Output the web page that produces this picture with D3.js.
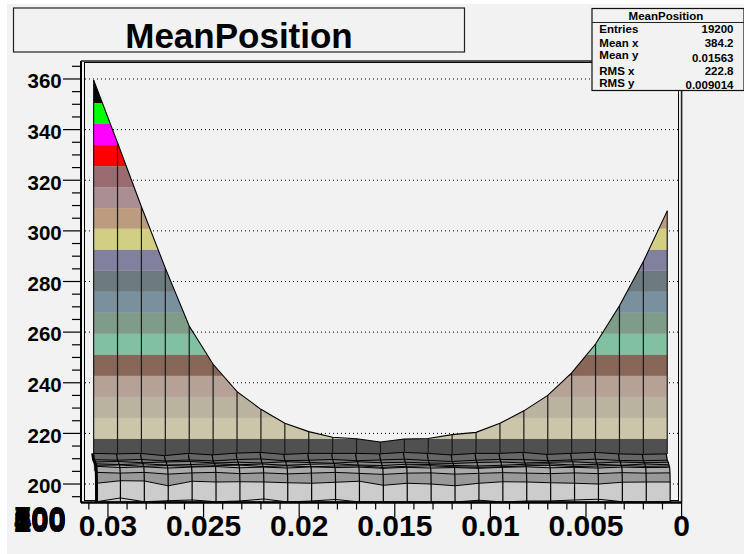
<!DOCTYPE html>
<html>
<head>
<meta charset="utf-8">
<script src="https://cdn.jsdelivr.net/npm/d3@7"></script>
<style>
  body { margin: 0; background: #fff; }
  text { font-family: "Liberation Sans", Arial, sans-serif; font-weight: bold; fill: #000; }
</style>
</head>
<body>
<div id="chart-area"></div>
<script>
// MeanPosition surface plot

// x positions of the surface columns
const xBins = [0.03075, 0.0295, 0.02825, 0.027, 0.02575, 0.0245, 0.02325, 0.022, 0.02075, 0.0195, 0.01825, 0.017, 0.01575,
  0.0145, 0.01325, 0.012, 0.01075, 0.0095, 0.00825, 0.007, 0.00575, 0.0045, 0.00325, 0.002, 0.00075]

// top edge of the surface
const topValues = [359.6, 334.8, 309.5, 285.3, 262.4, 247.3, 236.5, 229.5, 224.0, 220.7, 218.5, 217.9, 216.6,
  217.8, 218.0, 219.5, 220.4, 224.0, 228.9, 235.0, 243.9, 255.3, 270.4, 287.9, 307.9]

// wiggly rows in the low part of the surface
const rowA = [212.1, 211.9, 212.1, 211.2, 212.1, 211.5, 212.2, 212.5, 211.7, 212.1, 212.1, 212.1, 211.9, 212.5, 212.1, 211.5, 212.1, 212.1, 212.5, 211.7, 212.1, 212.5, 211.9, 211.7, 211.9]
const rowB = [209.6, 209.4, 209.7, 209.1, 209.5, 209.1, 209.7, 209.9, 209.2, 209.4, 209.7, 209.2, 209.5, 209.8, 209.3, 208.9, 209.4, 209.7, 209.6, 209.2, 209.5, 209.8, 209.3, 209.2, 209.4]
const rowC = [208.7, 208.9, 208.4, 208.7, 208.9, 208.3, 208.6, 208.3, 208.8, 208.5, 208.2, 208.8, 208.4, 208.6, 208.3, 208.1, 208.5, 208.7, 208.3, 208.6, 208.8, 208.3, 208.7, 208.4, 208.6]
const rowD = [208.0, 207.7, 208.0, 207.5, 207.7, 208.0, 207.6, 207.9, 207.4, 207.8, 208.0, 207.5, 207.3, 207.8, 207.7, 207.3, 207.1, 207.4, 207.8, 208.0, 207.5, 207.8, 207.4, 207.9, 207.6]
const rowE = [207.4, 207.5, 207.0, 207.3, 207.0, 207.2, 207.5, 206.9, 207.2, 206.8, 207.1, 207.2, 206.6, 207.0, 207.2, 206.8, 206.6, 206.8, 207.2, 207.4, 206.9, 207.1, 207.3, 207.0, 207.1]
const rowF = [207.0, 206.5, 206.8, 206.3, 206.7, 206.9, 206.4, 206.7, 206.3, 206.8, 206.5, 206.7, 206.2, 206.6, 206.3, 206.5, 206.2, 206.6, 206.8, 206.4, 206.6, 206.3, 206.7, 206.5, 206.6]
const rowG = [204.6, 204.3, 204.6, 203.9, 204.4, 204.6, 204.1, 204.4, 204.0, 204.3, 204.6, 204.2, 203.8, 204.3, 204.4, 203.9, 204.2, 204.5, 204.3, 204.1, 204.4, 204.1, 204.5, 204.3, 204.4]
const rowH = [200.3, 201.3, 201.2, 199.3, 201.1, 200.8, 200.9, 200.8, 200.5, 200.3, 200.7, 201.1, 199.5, 200.3, 200.0, 199.3, 200.3, 200.9, 200.8, 200.5, 200.3, 200.0, 200.7, 200.8, 200.8]
const rowI = [193.0, 194.5, 193.0, 193.4, 193.7, 193.0, 193.3, 194.1, 192.9, 193.3, 193.9, 192.9, 192.9, 192.9, 192.9, 192.9, 193.6, 192.9, 193.3, 193.3, 193.7, 194.0, 193.0, 192.9, 192.9]

// contour levels, top to bottom
const levels = [360, 350.5, 342.2, 333.9, 325.6, 317.3, 309.0, 300.8, 292.5, 284.2, 275.9, 267.6, 259.3, 251.0, 242.7, 234.4, 226.1, 217.8, 205]

// axis ticks and labels
const yMajor = [200, 220, 240, 260, 280, 300, 320, 340, 360]
const yMinor = [195, 205, 210, 215, 225, 230, 235, 245, 250, 255, 265, 270, 275, 285, 290, 295, 305, 310, 315, 325, 330, 335, 345, 350, 355, 365]
const xMajor = [0, 0.005, 0.01, 0.015, 0.02, 0.025, 0.03]
const xMinor = [0.001, 0.002, 0.003, 0.004, 0.006, 0.007, 0.008, 0.009, 0.011, 0.012, 0.013, 0.014, 0.016, 0.017, 0.018, 0.019, 0.021, 0.022, 0.023, 0.024, 0.026, 0.027, 0.028, 0.029, 0.031]
const zLabels = ["700", "600", "500", "400", "300", "200", "100"]

// stats box
const statNames = ["Entries", "Mean x", "Mean y", "RMS x", "RMS y"]
const statValues = ["19200", "384.2", "0.01563", "222.8", "0.009014"]

// styles
const bandColors = ["#000000", "#00ff00", "#ff00ff", "#ff0000", "#9a6b70", "#ab8e93", "#bd9b7e", "#d2cf85", "#81809f",
  "#6d7b80", "#7a909e", "#7f9c88", "#82c0a2", "#886758", "#b6a197", "#b9b39f", "#cbc6a9", "#505050"]
const lowColors = ["#666666", "#777777", "#8a8a8a", "#a0a0a0", "#aaaaaa", "#aaaaaa", "#999999", "#cccccc"]
const lowRows = [rowA, rowB, rowC, rowD, rowE, rowF, rowG, rowH, rowI]
const rowShift = [-1, 0, 1, 1.6, 2, 2.4, 2.7, 2.9, 2.9]
const BG = "#f2f2f2"

const svg = d3.select("#chart-area").append("svg")
    .attr("width", 744)
    .attr("height", 554)
    .style("display", "block")

svg.append("rect").attr("x", 7).attr("y", 4).attr("width", 737).attr("height", 550).attr("fill", BG)

const x = d3.scaleLinear().domain([0.03141, 0]).range([81, 681.6])
const y = d3.scaleLinear().domain([192.7, 367.1]).range([502.5, 61])

// grid
svg.append("g").selectAll("line")
  .data(yMajor)
  .enter().append("line")
    .attr("x1", 85).attr("x2", 678)
    .attr("y1", d => y(d)).attr("y2", d => y(d))
    .attr("stroke", "#000").attr("stroke-width", 1).attr("stroke-dasharray", "1,3")

// frame
svg.append("rect")
    .attr("x", 84.5).attr("y", 62.5)
    .attr("width", 594).attr("height", 438)
    .attr("fill", "none").attr("stroke", "#000")

// surface: colour bands clipped by the top edge
const topArea = d3.area()
    .x((d, i) => x(xBins[i]))
    .y0(y(205))
    .y1(d => y(d))

svg.append("clipPath").attr("id", "surface-clip")
  .append("path").attr("d", topArea(topValues))

svg.append("g").attr("clip-path", "url(#surface-clip)")
  .selectAll("rect")
  .data(bandColors)
  .enter().append("rect")
    .attr("x", x(xBins[0]))
    .attr("width", x(xBins[24]) - x(xBins[0]))
    .attr("y", (d, i) => y(levels[i]))
    .attr("height", (d, i) => y(levels[i + 1]) - y(levels[i]))
    .attr("fill", d => d)

// low bands between the wiggly rows
lowColors.forEach((c, r) => {
  const area = d3.area()
      .x((d, i) => x(xBins[i]) + rowShift[r])
      .y0((d, i) => y(lowRows[r + 1][i]))
      .y1(d => y(d))
  svg.append("path").attr("d", area(lowRows[r])).attr("fill", c)
})
svg.append("path")
    .attr("d", d3.area()
      .x((d, i) => x(xBins[i]) + rowShift[8])
      .y0(y(192.9))
      .y1(d => y(d))(rowI))
    .attr("fill", lowColors[7])

// row lines
const rowLine = s => d3.line().x((d, i) => x(xBins[i]) + s).y(d => y(d))
lowRows.forEach((row, r) => {
  svg.append("path")
      .attr("d", rowLine(rowShift[r])(row))
      .attr("fill", "none").attr("stroke", "#000").attr("stroke-width", 1)
})
svg.append("path")
    .attr("d", rowLine(rowShift[8])(rowI.map(() => 192.9)))
    .attr("fill", "none").attr("stroke", "#000").attr("stroke-width", 1)

// column lines, from the top edge down through the rows
xBins.forEach((b, i) => {
  const upper = [[x(b), y(topValues[i])], [x(b), y(rowA[i])]]
  const lower = lowRows.map((row, r) => [x(b) + rowShift[r], y(row[i])])
  lower[lower.length - 1][1] = y(192.9)
  svg.append("path")
      .attr("d", d3.line()(upper))
      .attr("fill", "none").attr("stroke", "#1a1a1a").attr("stroke-width", 1.2)
  svg.append("path")
      .attr("d", d3.line()(lower))
      .attr("fill", "none").attr("stroke", "#000")
      .attr("stroke-width", i === 0 ? 3 : 1.2)
})

// top edge outline
svg.append("path")
    .attr("d", d3.line().x((d, i) => x(xBins[i])).y(d => y(d))(topValues))
    .attr("fill", "none").attr("stroke", "#000").attr("stroke-width", 1.1)

// Y axis
const yAxisGroup = svg.append("g").attr("transform", "translate(81, 0)")
yAxisGroup.append("g")
    .call(d3.axisLeft(y).tickValues(yMinor).tickSize(9).tickFormat("").tickSizeOuter(0).offset(0))
const yMajorGroup = yAxisGroup.append("g")
    .call(d3.axisLeft(y).tickValues(yMajor).tickSize(18).tickPadding(1.3).tickSizeOuter(0).offset(0))
yMajorGroup.selectAll("text")
    .attr("dy", "9.3px")
    .attr("font-size", "20.5px")

// X axis
const xAxisGroup = svg.append("g").attr("transform", "translate(0, 502.5)")
xAxisGroup.append("g")
    .call(d3.axisBottom(x).tickValues(xMinor).tickSize(7).tickFormat("").tickSizeOuter(0).offset(0))
const xMajorGroup = xAxisGroup.append("g")
    .call(d3.axisBottom(x).tickValues(xMajor).tickSize(14.5).tickFormat(d => String(d)).tickSizeOuter(0).offset(0))
xMajorGroup.selectAll("text")
    .attr("y", 33.2)
    .attr("dy", 0)
    .attr("font-size", "30px")

svg.selectAll(".domain").attr("stroke-width", 2)
svg.selectAll(".tick line").attr("stroke-width", 1.2)

// outer frame, right and top sides
svg.append("path")
    .attr("d", "M81,61H681.6V502.5")
    .attr("fill", "none").attr("stroke", "#222").attr("stroke-width", 1.6)

// overlapping labels of the hidden third axis
svg.append("g").selectAll("text")
  .data(zLabels)
  .enter().append("text")
    .attr("x", 14)
    .attr("y", (d, i) => 529 + i * 0.5)
    .attr("font-size", "31px")
    .text(d => d)

// title box
svg.append("rect")
    .attr("x", 13.5).attr("y", 8)
    .attr("width", 451).attr("height", 44)
    .attr("fill", BG).attr("stroke", "#222").attr("stroke-width", 1.2)
svg.append("text")
    .attr("x", 239).attr("y", 47.5)
    .attr("text-anchor", "middle")
    .attr("font-size", "35px")
    .text("MeanPosition")

// stats box
const statY = [33, 47, 59, 75, 87]
const statValueY = [33, 47, 61.5, 75, 89]
svg.append("rect")
    .attr("x", 592).attr("y", 8.5)
    .attr("width", 152).attr("height", 82)
    .attr("fill", BG).attr("stroke", "#111").attr("stroke-width", 1.2)
svg.append("line")
    .attr("x1", 592).attr("x2", 744).attr("y1", 22.5).attr("y2", 22.5)
    .attr("stroke", "#222")
svg.append("text")
    .attr("x", 666).attr("y", 19.5)
    .attr("text-anchor", "middle")
    .attr("font-size", "11.5px")
    .text("MeanPosition")
svg.append("g").selectAll("text")
  .data(statNames)
  .enter().append("text")
    .attr("x", 599.3)
    .attr("y", (d, i) => statY[i])
    .attr("font-size", "11.5px")
    .text(d => d)
svg.append("g").selectAll("text")
  .data(statValues)
  .enter().append("text")
    .attr("x", 733.5)
    .attr("y", (d, i) => statValueY[i])
    .attr("text-anchor", "end")
    .attr("font-size", "11.5px")
    .text(d => d)
</script>
</body>
</html>
